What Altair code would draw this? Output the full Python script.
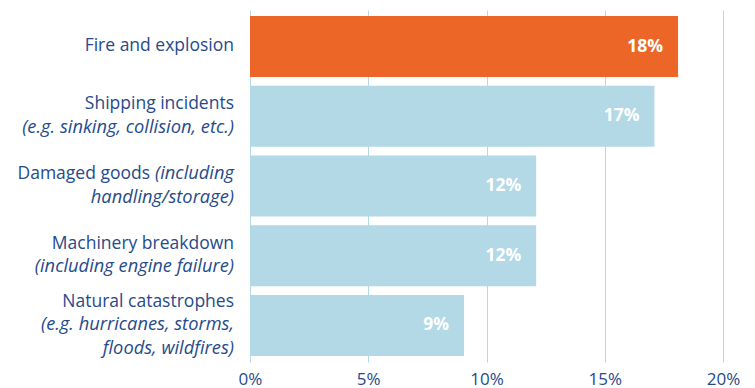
import altair as alt
import pandas as pd

categories = ["Fire and explosion", "Shipping incidents", "Damaged goods",
              "Machinery breakdown", "Natural catastrophes"]
values = [18.1, 17.1, 12.1, 12.1, 9.05]
value_labels = ["18%", "17%", "12%", "12%", "9%"]
highlight = [True, False, False, False, False]

# label segments: (category, line position from centre in line units, text, style)
seg_cat = ["Fire and explosion",
           "Shipping incidents", "Shipping incidents",
           "Damaged goods", "Damaged goods", "Damaged goods",
           "Machinery breakdown", "Machinery breakdown",
           "Natural catastrophes", "Natural catastrophes", "Natural catastrophes"]
seg_line = [0, -0.5, 0.5, -0.5, -0.5, 0.5, -0.5, 0.5, -1, 0, 1]
seg_text = ["Fire and explosion",
            "Shipping incidents", "(e.g. sinking, collision, etc.)",
            "Damaged goods", "(including", "handling/storage)",
            "Machinery breakdown", "(including engine failure)",
            "Natural catastrophes", "(e.g. hurricanes, storms,", "floods, wildfires)"]
seg_style = ["normal", "normal", "italic", "mixed", "italic", "italic",
             "normal", "italic", "normal", "italic", "italic"]

NAVY = "#264a8a"
ORANGE = "#ec6727"
LIGHT = "#b3d8e6"
FONT = "Open Sans"
LINE_H = 23.5
HALF_BAND = 30.5

df = pd.DataFrame({"cat": categories, "val": values, "lbl": value_labels, "hl": highlight})
seg = pd.DataFrame({"cat": seg_cat, "line": seg_line, "text": seg_text, "style": seg_style})

yscale = alt.Scale(domain=categories, paddingInner=0.125, paddingOuter=0.086)
y = alt.Y("cat:N", sort=categories, axis=None, scale=yscale)

bars = alt.Chart(df).mark_bar().encode(
    x=alt.X("val:Q", scale=alt.Scale(domain=[0, 20]),
            axis=alt.Axis(values=[0, 5, 10, 15, 20], labelExpr="datum.value + '%'",
                          title=None, grid=True, gridColor=LIGHT, gridWidth=1,
                          domain=False, ticks=False, labelFont=FONT, labelFontSize=17,
                          labelColor=NAVY, labelPadding=9, labelFlush=False)),
    y=y,
    color=alt.Color("hl:N", scale=alt.Scale(domain=[True, False], range=[ORANGE, LIGHT]),
                    legend=None),
)

vlabels = alt.Chart(df).mark_text(align="right", baseline="middle", dx=-15, color="white",
                                  font=FONT, fontSize=17.5, fontWeight="bold").encode(
    x="val:Q", y=y, text="lbl:N")

yoff = alt.YOffset("line:Q", scale=alt.Scale(domain=[-1, 1],
                                             range=[HALF_BAND - LINE_H, HALF_BAND + LINE_H]))
txt_kw = dict(align="right", baseline="middle", color=NAVY, font=FONT)
segc = alt.Chart(seg)
normal = segc.transform_filter("datum.style == 'normal'").mark_text(fontSize=17.5, **txt_kw).encode(
    x=alt.value(-16), y=y, yOffset=yoff, text="text:N")
italic = segc.transform_filter("datum.style == 'italic'").mark_text(
    fontStyle="italic", fontSize=18.3, **txt_kw).encode(
    x=alt.value(-16), y=y, yOffset=yoff, text="text:N")
mixed = segc.transform_filter("datum.style == 'mixed'").mark_text(dx=-84, fontSize=17.5, **txt_kw).encode(
    x=alt.value(-16), y=y, yOffset=yoff, text="text:N")

chart = alt.layer(bars, vlabels, normal, italic, mixed).resolve_scale(
    yOffset="independent").properties(
    width=473, height=352,
    autosize=alt.AutoSizeParams(type="none"),
    padding={"left": 250, "top": 10, "right": 32, "bottom": 26},
).configure_view(stroke=None)

chart.save("out.html", embed_options={"renderer": "svg", "actions": False})
